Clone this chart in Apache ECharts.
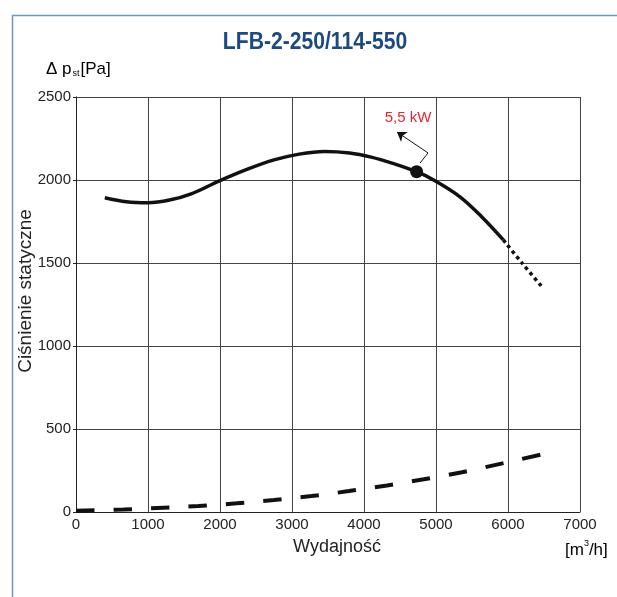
<!DOCTYPE html>
<html>
<head>
<meta charset="utf-8">
<script src="https://cdn.jsdelivr.net/npm/echarts@6/dist/echarts.min.js"></script>
<style>html,body{margin:0;padding:0;background:#fff}#c{width:617px;height:597px}</style>
</head>
<body>
<div id="c"></div>
<script>
const titleText = 'LFB-2-250/114-550';
const xTicks = [0, 1000, 2000, 3000, 4000, 5000, 6000, 7000];
const yTicks = [0, 500, 1000, 1500, 2000, 2500];
const pressureSolid = [[400,1893],[700,1869],[1000,1863],[1300,1879],[1600,1916],[2000,1996],[2400,2068],[2750,2121],[3100,2156],[3450,2172],[3800,2163],[4100,2138],[4400,2100],[4731,2050],[4986,1996],[5333,1899],[5634,1779],[5935,1639]];
const pressureDotted = [[5935,1639],[6200,1497],[6486,1349]];
const systemCurve = [[0,8],[660,15],[1130,24],[1700,36],[2230,52],[2750,72],[3270,96],[3790,126],[4320,160],[4830,197],[5360,239],[5860,287],[6500,350]];
const powerPoint = [[4731,2050]];
const powerLabel = '5,5 kW';
const labelPos = [[4611,2373]];
const pointerPath = [[4778,2102],[4889,2163]];
const pointerArrow = [[4889,2163],[4458,2289]];

const chart = echarts.init(document.getElementById('c'));
const F = "'Liberation Sans', Arial, sans-serif";
chart.setOption({
  animation: false,
  graphic: [
    { type: 'rect', left: 10, top: 13, shape: { width: 800, height: 800 }, style: { fill: 'none', stroke: '#6d95c6', lineWidth: 1.5 }, z: -1 },
    { type: 'text', x: 315, y: 42, scaleX: 0.88, style: {
        text: titleText, align: 'center', verticalAlign: 'middle',
        font: "bold 24px 'Liberation Sans', Arial, sans-serif", fill: '#1a4a80' } },
    { type: 'text', left: 46, top: 61, style: {
        text: '{a|Δ p}{s|st}{a|[Pa]}',
        rich: {
          a: { fontFamily: F, fontSize: 17, color: '#222', lineHeight: 20, verticalAlign: 'bottom' },
          s: { fontFamily: F, fontSize: 9, color: '#222', lineHeight: 20, verticalAlign: 'bottom', padding: [0,1,0,1] }
        }
      } },
    { type: 'text', left: 565, top: 539, style: {
        text: '{a|[m}{u|3}{a|/h]}',
        rich: {
          a: { fontFamily: F, fontSize: 17, color: '#222', lineHeight: 20, verticalAlign: 'bottom' },
          u: { fontFamily: F, fontSize: 9, color: '#222', lineHeight: 20, verticalAlign: 'top' }
        }
      } },
    { type: 'text', x: 26, y: 291, rotation: Math.PI / 2, style: {
        text: 'Ciśnienie statyczne', align: 'center', verticalAlign: 'middle',
        font: "19px 'Liberation Sans', Arial, sans-serif", fill: '#222' } }
  ],
  grid: { left: 76, right: 37, top: 97, height: 415 },
  xAxis: {
    type: 'value', min: 0, max: 7000, interval: 1000,
    name: 'Wydajność', nameLocation: 'middle', nameGap: 26,
    nameTextStyle: { fontFamily: F, fontSize: 18, color: '#222', padding: [0, 0, 0, 18] },
    axisLine: { show: true, lineStyle: { color: '#222', width: 1 } },
    axisTick: { show: false },
    axisLabel: { fontFamily: F, fontSize: 15, color: '#222', margin: 5, formatter: v => xTicks.includes(v) ? String(v) : '' },
    splitLine: { show: true, lineStyle: { color: '#444', width: 1 } }
  },
  yAxis: {
    type: 'value', min: 0, max: 2500, interval: 500,
    axisLine: { show: true, lineStyle: { color: '#222', width: 1 } },
    axisTick: { show: true, length: 3, lineStyle: { color: '#222' } },
    axisLabel: { fontFamily: F, fontSize: 15, color: '#222', margin: 5, formatter: v => yTicks.includes(v) ? String(v) : '' },
    splitLine: { show: true, lineStyle: { color: '#444', width: 1 } }
  },
  series: [
    { type: 'line', data: pressureSolid, smooth: 0.35, showSymbol: false, lineStyle: { color: '#111', width: 3.5 }, z: 5 },
    { type: 'line', data: pressureDotted, smooth: 0.3, showSymbol: false, lineStyle: { color: '#111', width: 3.5, type: [3.5, 3.5] }, z: 5 },
    { type: 'line', data: systemCurve, smooth: 0.3, showSymbol: false, lineStyle: { color: '#111', width: 4, type: [18.5, 19] }, z: 5 },
    { type: 'line', data: pointerPath, showSymbol: false, lineStyle: { color: '#111', width: 1 }, z: 6 },
    { type: 'lines', coordinateSystem: 'cartesian2d', symbol: ['none', 'arrow'], symbolSize: 9,
      lineStyle: { color: '#111', width: 1, opacity: 1 }, data: [{ coords: pointerArrow }], z: 6 },
    { type: 'scatter', data: powerPoint, symbol: 'circle', symbolSize: 13, itemStyle: { color: '#111', opacity: 1 }, z: 7 },
    { type: 'scatter', data: labelPos, symbolSize: 0, itemStyle: { opacity: 1 }, z: 7,
      label: { show: true, position: 'inside', formatter: powerLabel, fontFamily: F, fontSize: 15, color: '#e8262d' } }
  ]
});
</script>
</body>
</html>
